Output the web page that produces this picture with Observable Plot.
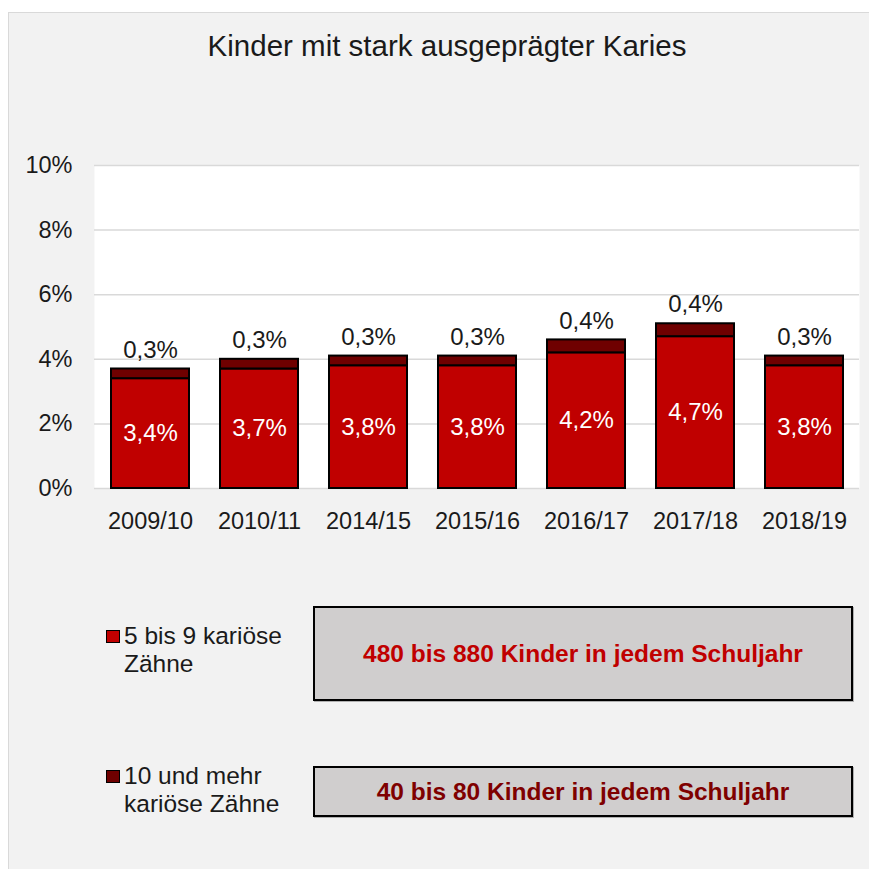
<!DOCTYPE html>
<html>
<head>
<meta charset="utf-8">
<script src="https://cdn.jsdelivr.net/npm/d3@7"></script>
<script src="https://cdn.jsdelivr.net/npm/@observablehq/plot@0.6"></script>
<style>
  html, body { margin: 0; padding: 0; background: #ffffff; }
  body { width: 869px; height: 869px; position: relative; overflow: hidden;
         font-family: "Liberation Sans", Arial, sans-serif; color: #1a1a1a; }
  #panel { position: absolute; left: 8px; top: 12px; right: -4px; bottom: -4px;
           background: #f2f2f2; border-left: 1.5px solid #d9d9d9; border-top: 1.5px solid #d9d9d9; }
  #title { position: absolute; left: 0; width: 894px; top: 28px; text-align: center;
           font-size: 29.5px; line-height: 36px; color: #1a1a1a; }
  #chart { position: absolute; left: 0; top: 0; }
  .leg { position: absolute; left: 106px; font-size: 24.5px; line-height: 28px; color: #1a1a1a; }
  .leg .sw { position: absolute; left: 0; top: 8px; width: 12px; height: 11px; border: 1.5px solid #000; }
  .leg .tx { position: absolute; left: 18px; top: 0; white-space: nowrap; }
  .box { position: absolute; left: 313px; width: 536px; background: #d0cece; border: 2px solid #000;
         box-shadow: 1px 1px 0 #b0b0b0; display: flex; align-items: center; justify-content: center;
         font-weight: bold; font-size: 24.5px; }
</style>
</head>
<body>
<div id="panel"></div>
<div id="title"></div>
<div id="chart"></div>
<div id="legend"></div>
<script>
// ---- data ----
const titel = "Kinder mit stark ausgeprägter Karies";
const jahre = ["2009/10", "2010/11", "2014/15", "2015/16", "2016/17", "2017/18", "2018/19"];
const anteil5bis9 = [3.4, 3.7, 3.8, 3.8, 4.2, 4.7, 3.8];
const anteil10plus = [0.3, 0.3, 0.3, 0.3, 0.4, 0.4, 0.3];
const serien = ["5 bis 9 kariöse Zähne", "10 und mehr kariöse Zähne"];
const legendeZeilen = [["5 bis 9 kariöse", "Zähne"], ["10 und mehr", "kariöse Zähne"]];
const boxTexte = ["480 bis 880 Kinder in jedem Schuljahr", "40 bis 80 Kinder in jedem Schuljahr"];
const yTicks = [0, 2, 4, 6, 8, 10];

// ---- styles ----
const farben = ["#c00000", "#6f0000"];
const boxFarben = ["#c00000", "#7f0000"];

const fmt = v => v.toFixed(1).replace(".", ",") + "%";

const rows = [];
jahre.forEach((j, i) => {
  rows.push({jahr: j, serie: serien[0], wert: anteil5bis9[i]});
  rows.push({jahr: j, serie: serien[1], wert: anteil10plus[i]});
});
const unten = jahre.map((j, i) => ({jahr: j, wert: anteil5bis9[i]}));
const oben = jahre.map((j, i) => ({jahr: j, wert: anteil10plus[i], total: anteil5bis9[i] + anteil10plus[i]}));

document.getElementById("title").textContent = titel;

const chart = Plot.plot({
  width: 869,
  height: 560,
  marginTop: 165,
  marginBottom: 72,
  marginLeft: 94,
  marginRight: 10,
  style: {background: "transparent", fontFamily: "'Liberation Sans', Arial, sans-serif", fontSize: "23.5px", color: "#1a1a1a"},
  x: {domain: jahre, paddingInner: 0.286, paddingOuter: 0.143, label: null},
  y: {domain: [0, 10], label: null},
  color: {domain: serien, range: farben},
  marks: [
    Plot.frame({fill: "white", stroke: null}),
    Plot.gridY(yTicks, {stroke: "#d9d9d9", strokeOpacity: 1, strokeWidth: 1.5}),
    Plot.axisY(yTicks, {tickSize: 0, tickPadding: 22, tickFormat: d => d + "%", fontSize: 23.5, fill: "#1a1a1a", label: null}),
    Plot.axisX({tickSize: 0, tickPadding: 24, fontSize: 23.5, fill: "#1a1a1a", label: null}),
    Plot.barY(rows, Plot.stackY({x: "jahr", y: "wert", fill: "serie", order: serien, stroke: "#000", strokeWidth: 2})),
    Plot.text(unten, {x: "jahr", y: d => d.wert / 2, text: d => fmt(d.wert), fill: "white", fontSize: 24}),
    Plot.text(oben, {x: "jahr", y: "total", text: d => fmt(d.wert), dy: -19, fill: "#1a1a1a", fontSize: 24})
  ]
});
document.getElementById("chart").appendChild(chart);

// ---- legend and boxes ----
const legTops = [622, 762];
const boxGeo = [[606, 95], [766, 51]];
const leg = document.getElementById("legend");
serien.forEach((s, i) => {
  const d = document.createElement("div");
  d.className = "leg";
  d.style.top = legTops[i] + "px";
  const sw = document.createElement("div");
  sw.className = "sw";
  sw.style.background = farben[i];
  const tx = document.createElement("div");
  tx.className = "tx";
  tx.innerHTML = legendeZeilen[i].join("<br>");
  d.appendChild(sw); d.appendChild(tx);
  leg.appendChild(d);

  const b = document.createElement("div");
  b.className = "box";
  b.style.top = boxGeo[i][0] + "px";
  b.style.height = (boxGeo[i][1] - 4) + "px";
  b.style.color = boxFarben[i];
  b.textContent = boxTexte[i];
  leg.appendChild(b);
});
</script>
</body>
</html>
